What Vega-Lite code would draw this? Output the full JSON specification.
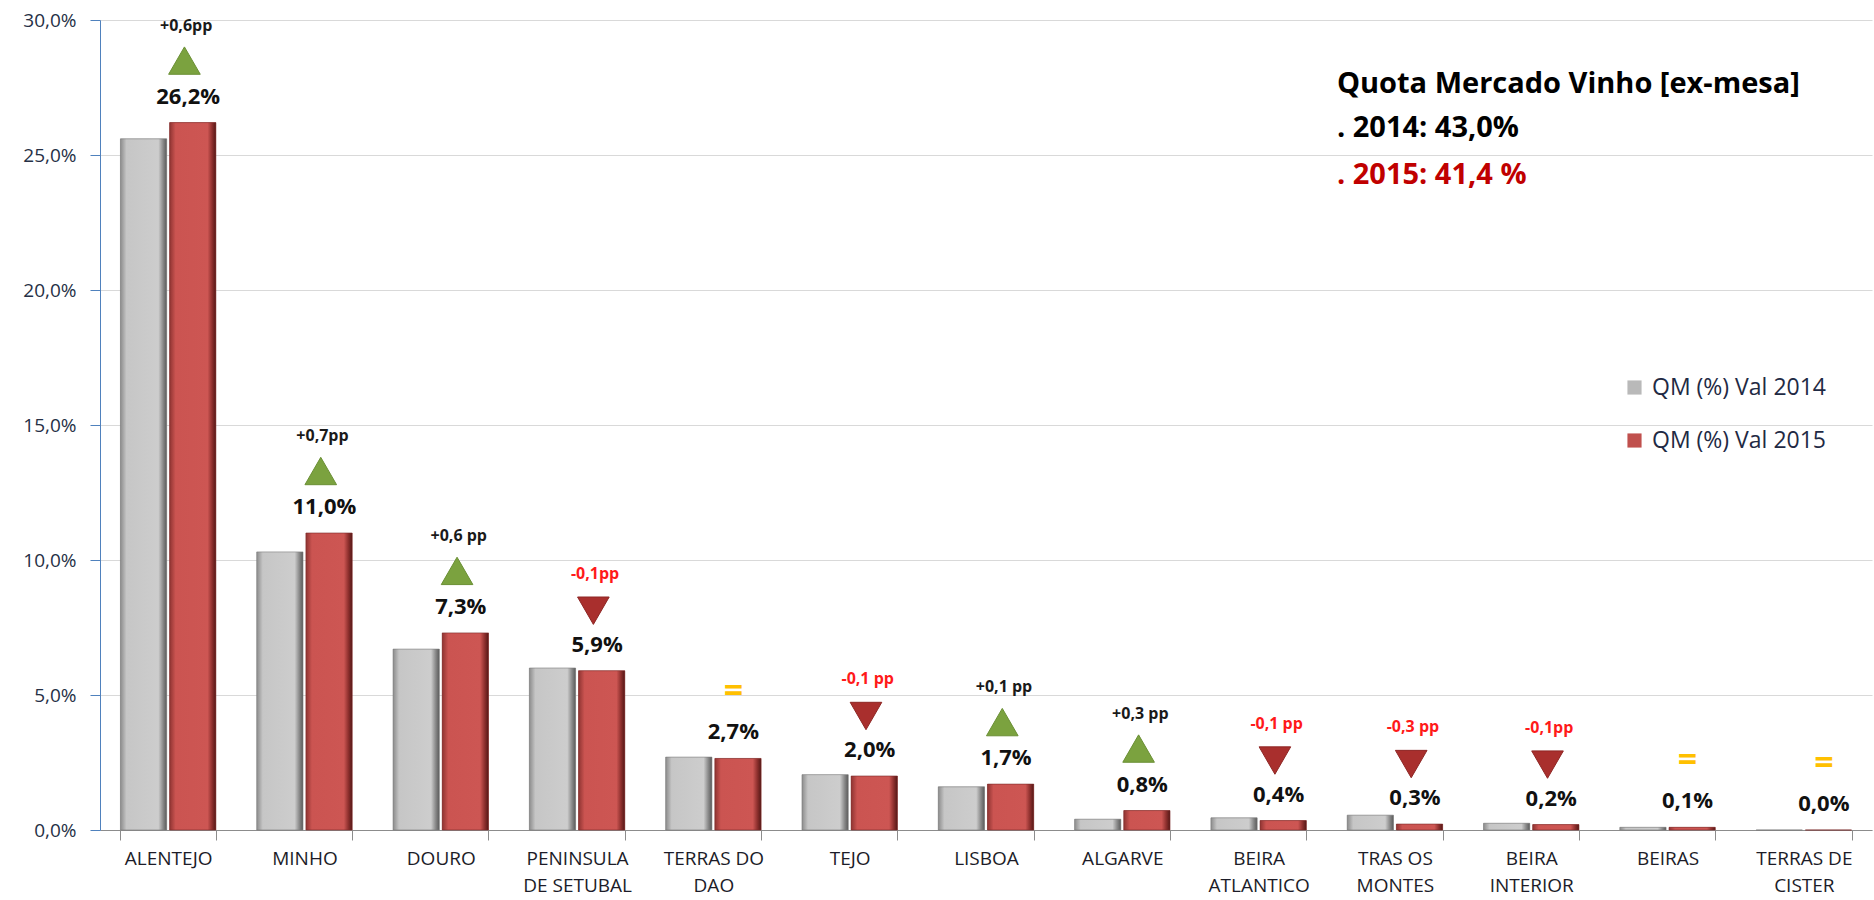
{
  "$schema": "https://vega.github.io/schema/vega-lite/v6.json",
  "width": 1772,
  "height": 810,
  "autosize": {"type": "none"},
  "padding": {"left": 100, "top": 20, "right": 2, "bottom": 70},
  "background": "white",
  "config": {"view": {"stroke": null}, "font": "Open Sans"},
  "datasets": {
    "bars": [
      {"region": "ALENTEJO", "year": "2014", "value": 25.6},
      {"region": "ALENTEJO", "year": "2015", "value": 26.2},
      {"region": "MINHO", "year": "2014", "value": 10.3},
      {"region": "MINHO", "year": "2015", "value": 11.0},
      {"region": "DOURO", "year": "2014", "value": 6.7},
      {"region": "DOURO", "year": "2015", "value": 7.3},
      {"region": "PENINSULA DE SETUBAL", "year": "2014", "value": 6.0},
      {"region": "PENINSULA DE SETUBAL", "year": "2015", "value": 5.9},
      {"region": "TERRAS DO DAO", "year": "2014", "value": 2.7},
      {"region": "TERRAS DO DAO", "year": "2015", "value": 2.65},
      {"region": "TEJO", "year": "2014", "value": 2.05},
      {"region": "TEJO", "year": "2015", "value": 2.0},
      {"region": "LISBOA", "year": "2014", "value": 1.6},
      {"region": "LISBOA", "year": "2015", "value": 1.7},
      {"region": "ALGARVE", "year": "2014", "value": 0.4},
      {"region": "ALGARVE", "year": "2015", "value": 0.72},
      {"region": "BEIRA ATLANTICO", "year": "2014", "value": 0.45},
      {"region": "BEIRA ATLANTICO", "year": "2015", "value": 0.35},
      {"region": "TRAS OS MONTES", "year": "2014", "value": 0.55},
      {"region": "TRAS OS MONTES", "year": "2015", "value": 0.22},
      {"region": "BEIRA INTERIOR", "year": "2014", "value": 0.25},
      {"region": "BEIRA INTERIOR", "year": "2015", "value": 0.2},
      {"region": "BEIRAS", "year": "2014", "value": 0.1},
      {"region": "BEIRAS", "year": "2015", "value": 0.1},
      {"region": "TERRAS DE CISTER", "year": "2014", "value": 0.0},
      {"region": "TERRAS DE CISTER", "year": "2015", "value": 0.0}
    ],
    "notes": [
      {"region": "ALENTEJO", "value": 26.2, "label": "26,2%", "delta": "+0,6pp", "trend": "up"},
      {"region": "MINHO", "value": 11.0, "label": "11,0%", "delta": "+0,7pp", "trend": "up"},
      {"region": "DOURO", "value": 7.3, "label": "7,3%", "delta": "+0,6 pp", "trend": "up"},
      {"region": "PENINSULA DE SETUBAL", "value": 5.9, "label": "5,9%", "delta": "-0,1pp", "trend": "down"},
      {"region": "TERRAS DO DAO", "value": 2.65, "label": "2,7%", "delta": "", "trend": "eq"},
      {"region": "TEJO", "value": 2.0, "label": "2,0%", "delta": "-0,1 pp", "trend": "down"},
      {"region": "LISBOA", "value": 1.7, "label": "1,7%", "delta": "+0,1 pp", "trend": "up"},
      {"region": "ALGARVE", "value": 0.72, "label": "0,8%", "delta": "+0,3 pp", "trend": "up"},
      {"region": "BEIRA ATLANTICO", "value": 0.35, "label": "0,4%", "delta": "-0,1 pp", "trend": "down"},
      {"region": "TRAS OS MONTES", "value": 0.22, "label": "0,3%", "delta": "-0,3 pp", "trend": "down"},
      {"region": "BEIRA INTERIOR", "value": 0.2, "label": "0,2%", "delta": "-0,1pp", "trend": "down"},
      {"region": "BEIRAS", "value": 0.1, "label": "0,1%", "delta": "", "trend": "eq"},
      {"region": "TERRAS DE CISTER", "value": 0.0, "label": "0,0%", "delta": "", "trend": "eq"}
    ],
    "header": [
      {"kind": "title", "line": "Quota Mercado Vinho [ex-mesa]"},
      {"kind": "2014", "line": ". 2014: 43,0%"},
      {"kind": "2015", "line": ". 2015: 41,4 %"}
    ]
  },
  "layer": [
    {
      "encoding": {
        "x": {
          "field": "region",
          "type": "nominal",
          "scale": {
            "domain": ["ALENTEJO", "MINHO", "DOURO", "PENINSULA DE SETUBAL", "TERRAS DO DAO", "TEJO", "LISBOA", "ALGARVE", "BEIRA ATLANTICO", "TRAS OS MONTES", "BEIRA INTERIOR", "BEIRAS", "TERRAS DE CISTER"],
            "paddingInner": 0.3,
            "paddingOuter": 0.15
          },
          "axis": {
            "title": null,
            "labelAngle": 0,
            "labelExpr": "!isString(datum.value) ? '' : (length(split(datum.value,' '))==3 ? (length(split(datum.value,' ')[0])>6 ? [split(datum.value,' ')[0], split(datum.value,' ')[1]+' '+split(datum.value,' ')[2]] : [split(datum.value,' ')[0]+' '+split(datum.value,' ')[1], split(datum.value,' ')[2]]) : split(datum.value,' '))",
            "labelFontSize": 19,
            "labelColor": "#1c1c28",
            "labelLineHeight": 27,
            "labelPadding": 9,
            "labelBaseline": "top",
            "domainColor": "#8c8c8c",
            "tickColor": "#8c8c8c",
            "tickSize": 10,
            "tickBand": "extent",
            "grid": false
          }
        },
        "y": {
          "field": "value",
          "type": "quantitative",
          "scale": {"domain": [0, 30], "nice": false},
          "axis": {
            "title": null,
            "values": [0, 5, 10, 15, 20, 25, 30],
            "labelExpr": "replace(format(datum.value, '.1f'), '.', ',') + '%'",
            "labelFontSize": 19,
            "labelColor": "#263046",
            "labelPadding": 14,
            "domainColor": "#4f81bd",
            "tickColor": "#4f81bd",
            "tickSize": 10,
            "gridColor": "#d9d9d9",
            "gridWidth": 1.2
          }
        }
      },
      "layer": [
        {
          "data": {"name": "bars"},
          "mark": {"type": "bar"},
          "encoding": {
            "xOffset": {"field": "year", "type": "nominal", "scale": {"domain": ["2014", "2015"], "paddingInner": 0.06}},
            "color": {
              "field": "year",
              "type": "nominal",
              "scale": {"domain": ["2014", "2015"], "range": ["#b9b9b9", "#c0504d"]},
              "legend": {
                "title": null,
                "orient": "none",
                "legendX": 1523,
                "legendY": 356,
                "symbolType": "square",
                "symbolSize": 200,
                "symbolStrokeWidth": 0,
                "labelFontSize": 23,
                "labelLimit": 400,
                "labelColor": "#1f2a44",
                "labelExpr": "'QM (%) Val ' + datum.label",
                "rowPadding": 29,
                "labelOffset": 6
              }
            }
          }
        },
        {
          "data": {"name": "bars"},
          "transform": [{"filter": "datum.year == '2014'"}],
          "mark": {
            "type": "bar",
            "stroke": "#7a7a7a",
            "strokeWidth": 0.6,
            "color": {"gradient": "linear", "x1": 0, "y1": 0, "x2": 1, "y2": 0,
              "stops": [
                {"offset": 0, "color": "#8c8c8c"},
                {"offset": 0.13, "color": "#c6c6c6"},
                {"offset": 0.82, "color": "#cdcdcd"},
                {"offset": 0.92, "color": "#8a8a8a"},
                {"offset": 1, "color": "#5a5a5a"}
              ]}
          },
          "encoding": {
            "xOffset": {"field": "year", "type": "nominal", "scale": {"domain": ["2014", "2015"], "paddingInner": 0.06}}
          }
        },
        {
          "data": {"name": "bars"},
          "transform": [{"filter": "datum.year == '2015'"}],
          "mark": {
            "type": "bar",
            "stroke": "#7a2a28",
            "strokeWidth": 0.6,
            "color": {"gradient": "linear", "x1": 0, "y1": 0, "x2": 1, "y2": 0,
              "stops": [
                {"offset": 0, "color": "#8f3432"},
                {"offset": 0.13, "color": "#cb5451"},
                {"offset": 0.82, "color": "#cd5653"},
                {"offset": 0.92, "color": "#8c2f2d"},
                {"offset": 1, "color": "#541816"}
              ]}
          },
          "encoding": {
            "xOffset": {"field": "year", "type": "nominal", "scale": {"domain": ["2014", "2015"], "paddingInner": 0.06}}
          }
        },
        {
          "data": {"name": "notes"},
          "mark": {"type": "text", "dx": 20, "dy": -26, "baseline": "middle", "align": "center", "fontSize": 22, "fontWeight": "bold", "color": "#111111"},
          "encoding": {"text": {"field": "label"}}
        },
        {
          "data": {"name": "notes"},
          "transform": [{"filter": "datum.trend != 'eq'"}],
          "mark": {"type": "text", "dx": 18, "dy": -97, "baseline": "middle", "align": "center", "fontSize": 16, "fontWeight": "bold"},
          "encoding": {
            "text": {"field": "delta"},
            "color": {"condition": {"test": "datum.trend == 'down'", "value": "#ff1a1a"}, "value": "#1a1a1a"}
          }
        },
        {
          "data": {"name": "notes"},
          "transform": [{"filter": "datum.trend == 'up'"}],
          "mark": {"type": "point", "shape": "triangle-up", "filled": true, "size": 1000, "color": "#7ba23f", "opacity": 1, "stroke": "#6a8f34", "strokeWidth": 1},
          "encoding": {"yOffset": {"value": -62}, "xOffset": {"value": 64}}
        },
        {
          "data": {"name": "notes"},
          "transform": [{"filter": "datum.trend == 'down'"}],
          "mark": {"type": "point", "shape": "triangle-down", "filled": true, "size": 1000, "color": "#a92f2d", "opacity": 1, "stroke": "#8e2624", "strokeWidth": 1},
          "encoding": {"yOffset": {"value": -60}, "xOffset": {"value": 64}}
        },
        {
          "data": {"name": "notes"},
          "transform": [{"filter": "datum.trend == 'eq'"}],
          "mark": {"type": "text", "dx": 20, "dy": -66, "baseline": "middle", "align": "center", "fontSize": 34, "fontWeight": "bold", "color": "#ffc000"},
          "encoding": {"text": {"value": "="}}
        }
      ]
    },
    {
      "data": {"name": "header"},
      "transform": [{"filter": "datum.kind == 'title'"}],
      "mark": {"type": "text", "align": "left", "baseline": "alphabetic", "dx": -58, "dy": 0, "fontSize": 29, "fontWeight": "bold", "color": "#000000"},
      "encoding": {"x": {"datum": "TRAS OS MONTES", "type": "nominal"}, "y": {"datum": 27.3, "type": "quantitative"}, "text": {"field": "line", "type": "nominal"}}
    },
    {
      "data": {"name": "header"},
      "transform": [{"filter": "datum.kind == '2014'"}],
      "mark": {"type": "text", "align": "left", "baseline": "alphabetic", "dx": -58, "dy": 44, "fontSize": 29, "fontWeight": "bold", "color": "#000000"},
      "encoding": {"x": {"datum": "TRAS OS MONTES", "type": "nominal"}, "y": {"datum": 27.3, "type": "quantitative"}, "text": {"field": "line", "type": "nominal"}}
    },
    {
      "data": {"name": "header"},
      "transform": [{"filter": "datum.kind == '2015'"}],
      "mark": {"type": "text", "align": "left", "baseline": "alphabetic", "dx": -58, "dy": 91, "fontSize": 29, "fontWeight": "bold", "color": "#c00000"},
      "encoding": {"x": {"datum": "TRAS OS MONTES", "type": "nominal"}, "y": {"datum": 27.3, "type": "quantitative"}, "text": {"field": "line", "type": "nominal"}}
    }
  ]
}
